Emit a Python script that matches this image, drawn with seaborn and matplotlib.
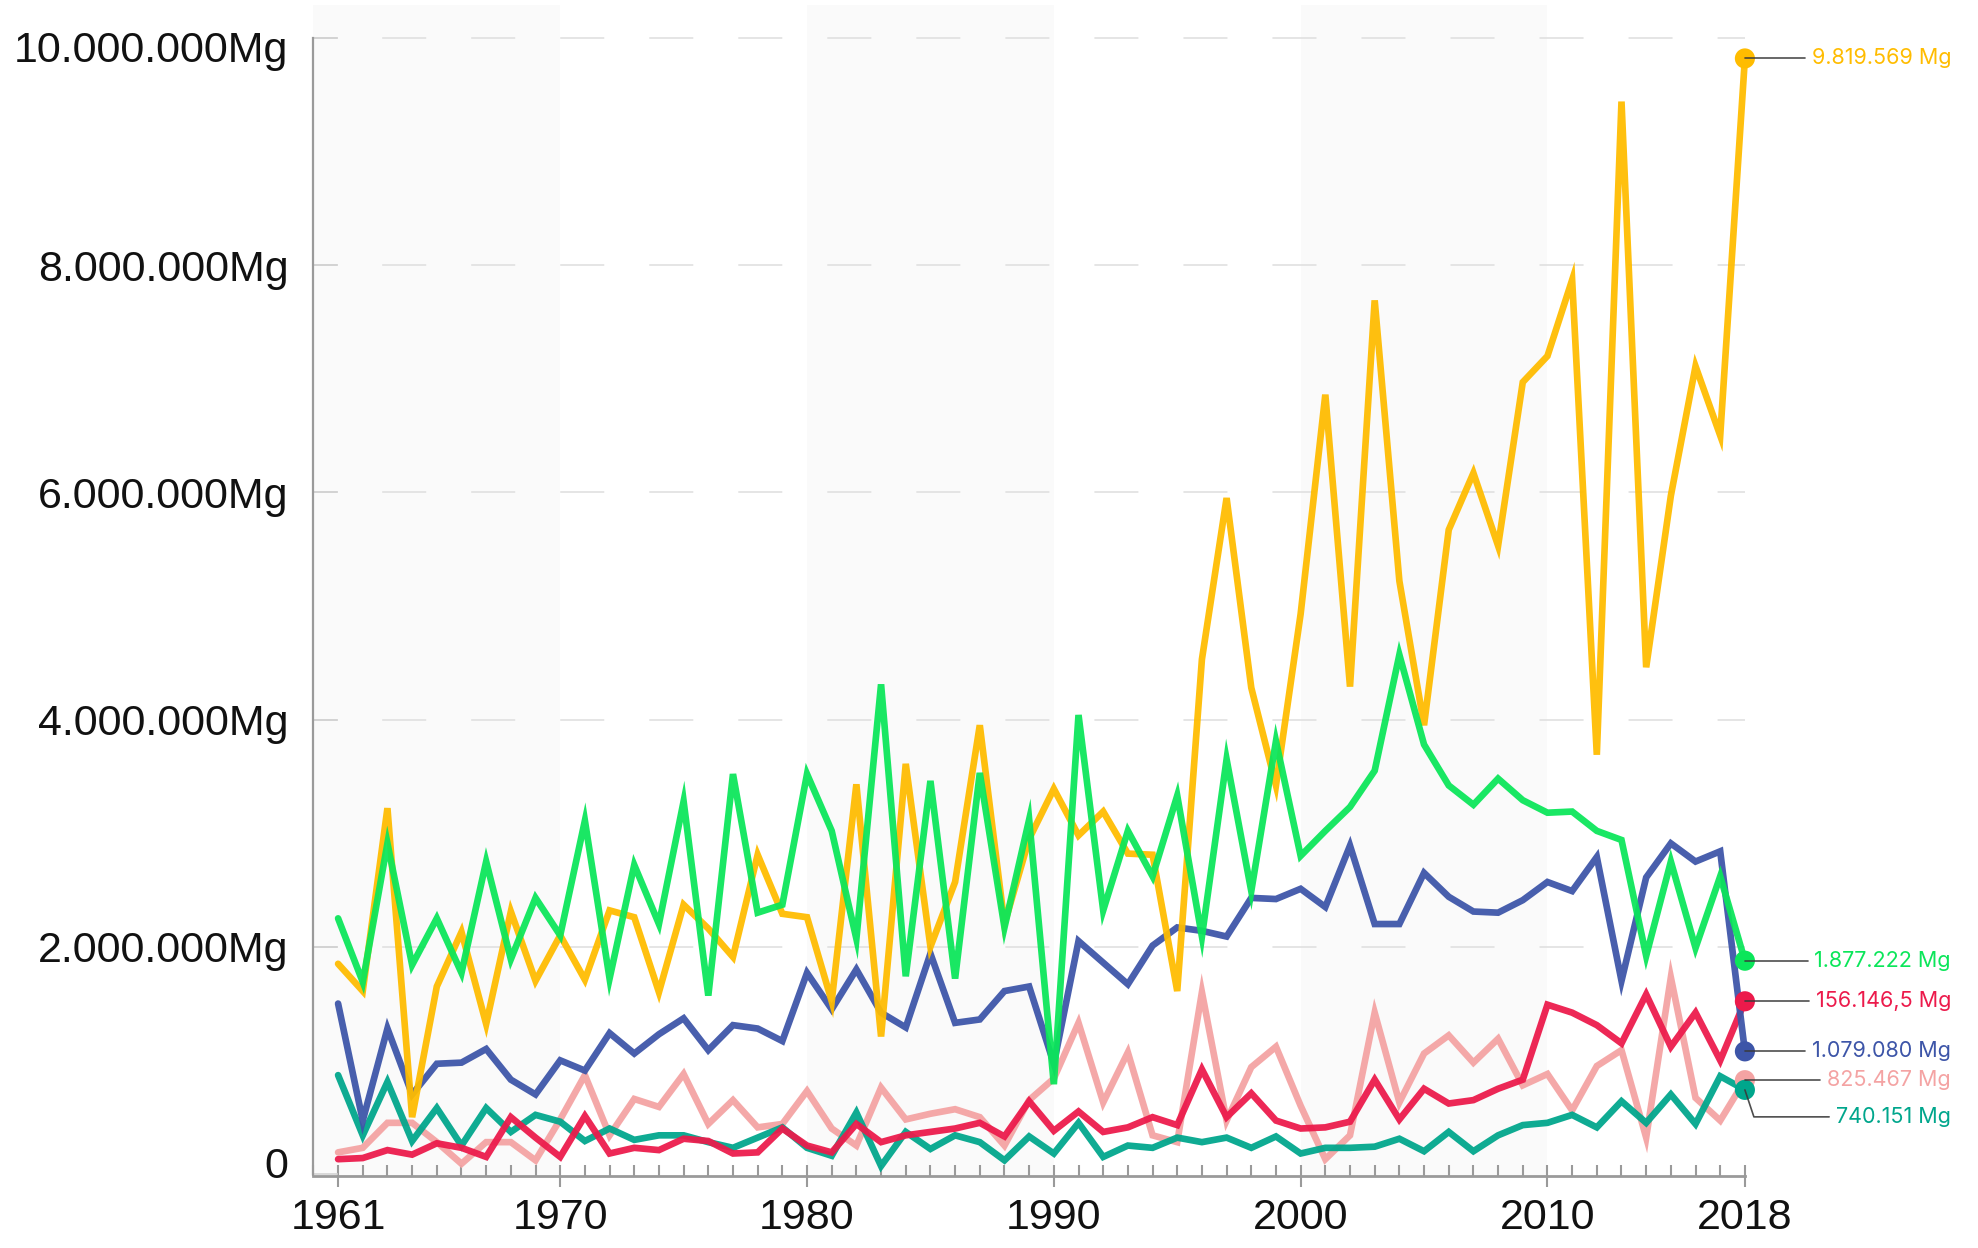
import numpy as np
import pandas as pd
import matplotlib
matplotlib.use("Agg")
import matplotlib.pyplot as plt
import seaborn as sns
from matplotlib.lines import Line2D
from matplotlib.ticker import MultipleLocator
from matplotlib.transforms import ScaledTranslation

# ---------------- data ----------------
years = list(range(1961, 2019))

yellow_vals = [1.85, 1.61, 3.22, 0.50, 1.65, 2.13, 1.32, 2.31, 1.70, 2.10,
               1.71, 2.32, 2.26, 1.60, 2.37, 2.16, 1.91, 2.81, 2.29, 2.26,
               1.52, 3.43, 1.21, 3.61, 2.00, 2.57, 3.95, 2.20, 2.95, 3.39,
               2.98, 3.19, 2.82, 2.81, 1.61, 4.53, 5.95, 4.28, 3.42, 4.93,
               6.86, 4.29, 7.69, 5.22, 3.95, 5.67, 6.17, 5.53, 6.97, 7.20,
               7.87, 3.69, 9.44, 4.46, 5.97, 7.11, 6.50, 9.819569]
green_vals = [2.25, 1.69, 2.91, 1.84, 2.25, 1.77, 2.75, 1.89, 2.43, 2.10,
              3.11, 1.72, 2.72, 2.20, 3.28, 1.57, 3.52, 2.30, 2.37, 3.52,
              3.02, 2.07, 4.31, 1.74, 3.46, 1.72, 3.53, 2.17, 3.12, 0.79,
              4.04, 2.32, 3.02, 2.62, 3.33, 2.09, 3.65, 2.49, 3.81, 2.80,
              3.02, 3.23, 3.55, 4.57, 3.78, 3.42, 3.25, 3.48, 3.29, 3.18,
              3.19, 3.02, 2.94, 1.92, 2.75, 1.99, 2.62, 1.877222]
blue_vals = [1.50, 0.47, 1.28, 0.70, 0.97, 0.98, 1.10, 0.83, 0.70, 1.00,
             0.91, 1.24, 1.06, 1.23, 1.37, 1.09, 1.31, 1.28, 1.17, 1.77,
             1.45, 1.80, 1.42, 1.29, 1.94, 1.33, 1.36, 1.61, 1.65, 0.97,
             2.05, 1.86, 1.67, 2.01, 2.17, 2.14, 2.09, 2.43, 2.42, 2.51,
             2.35, 2.89, 2.20, 2.20, 2.65, 2.44, 2.31, 2.30, 2.41, 2.57,
             2.49, 2.79, 1.70, 2.61, 2.91, 2.75, 2.84, 1.07908]
red_vals = [0.13, 0.14, 0.21, 0.17, 0.27, 0.23, 0.15, 0.50, 0.32, 0.15,
            0.51, 0.18, 0.23, 0.21, 0.31, 0.29, 0.18, 0.19, 0.40, 0.25,
            0.19, 0.44, 0.28, 0.34, 0.37, 0.40, 0.45, 0.33, 0.64, 0.38,
            0.55, 0.37, 0.41, 0.50, 0.43, 0.92, 0.50, 0.71, 0.47, 0.40,
            0.41, 0.46, 0.83, 0.48, 0.75, 0.62, 0.65, 0.75, 0.83, 1.49,
            1.42, 1.31, 1.15, 1.58, 1.12, 1.42, 1.00, 1.52]
pink_vals = [0.19, 0.23, 0.45, 0.45, 0.28, 0.09, 0.28, 0.28, 0.12, 0.48,
             0.87, 0.34, 0.66, 0.59, 0.88, 0.44, 0.65, 0.41, 0.44, 0.73,
             0.40, 0.25, 0.76, 0.48, 0.53, 0.57, 0.50, 0.25, 0.65, 0.84,
             1.33, 0.63, 1.07, 0.34, 0.28, 1.60, 0.47, 0.94, 1.12, 0.60,
             0.13, 0.34, 1.42, 0.63, 1.06, 1.22, 0.98, 1.19, 0.78, 0.88,
             0.56, 0.95, 1.09, 0.32, 1.73, 0.67, 0.47, 0.825467]
teal_vals = [0.87, 0.34, 0.81, 0.29, 0.58, 0.25, 0.58, 0.37, 0.52, 0.46,
             0.29, 0.40, 0.30, 0.34, 0.34, 0.28, 0.23, 0.32, 0.41, 0.23,
             0.16, 0.54, 0.07, 0.37, 0.22, 0.34, 0.28, 0.12, 0.33, 0.18,
             0.45, 0.15, 0.25, 0.23, 0.32, 0.28, 0.32, 0.23, 0.33, 0.18,
             0.23, 0.23, 0.24, 0.31, 0.20, 0.37, 0.20, 0.34, 0.43, 0.45,
             0.52, 0.41, 0.64, 0.45, 0.70, 0.44, 0.86, 0.740151]

series_names = ["yellow", "green", "blue", "red", "pink", "teal"]
series_values = [yellow_vals, green_vals, blue_vals, red_vals, pink_vals, teal_vals]
end_labels = ["9.819.569 Mg", "1.877.222 Mg", "1.079.080 Mg",
              "156.146,5 Mg", "825.467 Mg", "740.151 Mg"]

y_ticks = [0, 2e6, 4e6, 6e6, 8e6, 10e6]
y_tick_labels = ["0", "2.000.000Mg", "4.000.000Mg", "6.000.000Mg",
                 "8.000.000Mg", "10.000.000Mg"]
x_ticks = [1961, 1970, 1980, 1990, 2000, 2010, 2018]
x_tick_labels = ["1961", "1970", "1980", "1990", "2000", "2010", "2018"]
shade_spans = [(1960, 1970), (1980, 1990), (2000, 2010)]

# ---------------- style ----------------
colors = {"yellow": "#FFBC00", "green": "#0BE65A", "blue": "#3D55A8",
          "red": "#EC1A4B", "pink": "#F4A3A3", "teal": "#00A68C"}
draw_order = ["pink", "teal", "red", "blue", "yellow", "green"]
label_offsets_px = {"yellow": 0, "green": 0, "red": 0, "blue": 0, "pink": 0, "teal": -27}

sns.set_theme(style="white")
plt.rcParams["font.family"] = ["Liberation Sans", "DejaVu Sans"]
plt.rcParams["lines.scale_dashes"] = False

rows = []
for name, vals in zip(series_names, series_values):
    for yr, v in zip(years, vals):
        rows.append({"year": yr, "value": v * 1e6, "series": name})
df = pd.DataFrame(rows)

W, H = 1978, 1248
fig = plt.figure(figsize=(W / 100, H / 100), dpi=100)
ax_left, ax_right, ax_top, ax_bottom = 313.4, 1744.9, 5.0, 1176.0
ax = fig.add_axes([ax_left / W, 1 - ax_bottom / H, (ax_right - ax_left) / W,
                   (ax_bottom - ax_top) / H])
ax.set_facecolor("white")

for a, b in shade_spans:
    ax.axvspan(a, b, color="#FAFAFA", zorder=0, lw=0)

for v in y_ticks[1:]:
    ax.axhline(v, color="#DEDEDE", lw=1.1, linestyle=(14.3, (31.7, 32.4)), zorder=0.5)

sns.lineplot(data=df, x="year", y="value", hue="series", hue_order=draw_order,
             palette=colors, linewidth=4.8, legend=False, ax=ax, alpha=0.94,
             zorder=2, solid_joinstyle="miter")
for ln in ax.get_lines():
    ln.set_clip_on(False)

last = df[df["year"] == years[-1]]
sns.scatterplot(data=last, x="year", y="value", hue="series", hue_order=draw_order,
                palette=colors, s=210, linewidth=0, legend=False, ax=ax, zorder=3,
                clip_on=False)

ax.set_xlim(1960, 2018)
ax.set_ylim(-0.018e6, 10.29e6)
ax.set_xlabel("")
ax.set_ylabel("")

ax.set_yticks(y_ticks)
ax.set_yticklabels(y_tick_labels)
ax.set_xticks(x_ticks)
ax.set_xticklabels(x_tick_labels)
ax.xaxis.set_minor_locator(MultipleLocator(1))

ax.tick_params(axis="y", which="major", direction="in", length=18, width=1.1,
               color="#CFCFCF", pad=18, labelsize=31, labelcolor="#111111",
               left=True)
ax.tick_params(axis="x", which="major", direction="inout", length=15.8, width=1.5,
               color="#9A9A9A", pad=8, labelsize=31, labelcolor="#111111",
               bottom=True)
ax.tick_params(axis="x", which="minor", direction="in", length=7.9, width=1.5,
               color="#9A9A9A", bottom=True)

# small vertical nudges of first / last y labels (as in the reference)
ylabels = ax.get_yticklabels()
ylabels[0].set_transform(ylabels[0].get_transform() +
                         ScaledTranslation(0, 0.11, fig.dpi_scale_trans))
ylabels[-1].set_transform(ylabels[-1].get_transform() +
                          ScaledTranslation(0, -0.09, fig.dpi_scale_trans))

for s in ["top", "right"]:
    ax.spines[s].set_visible(False)
ax.spines["left"].set_bounds(0, 10e6)
ax.spines["left"].set_color("#9A9A9A")
ax.spines["left"].set_linewidth(1.6)
ax.spines["bottom"].set_bounds(1960, 2018)
ax.spines["bottom"].set_color("#9A9A9A")
ax.spines["bottom"].set_linewidth(2.0)

# ---------------- end labels ----------------
fig.canvas.draw()
renderer = fig.canvas.get_renderer()
text_right = 1951
for name, vals, lab in zip(series_names, series_values, end_labels):
    px, py = ax.transData.transform((years[-1], vals[-1] * 1e6))
    ly = py + label_offsets_px[name]
    t = fig.text(text_right / W, ly / H, lab, ha="right", va="center",
                 color=colors[name], fontsize=15.5,
                 family=["Inter", "Liberation Sans", "DejaVu Sans"])
    bb = t.get_window_extent(renderer=renderer)
    x_end = bb.x0 - 7
    if label_offsets_px[name] != 0:
        xs = [px, px + 9, x_end]
        ys = [py, ly, ly]
    else:
        xs = [px, x_end]
        ys = [py, ly]
    fig.add_artist(Line2D([x / W for x in xs], [y / H for y in ys],
                          transform=fig.transFigure, color="#3A3A3A",
                          lw=1.2, alpha=0.9, zorder=5))

fig.savefig("out.png", dpi=100)
